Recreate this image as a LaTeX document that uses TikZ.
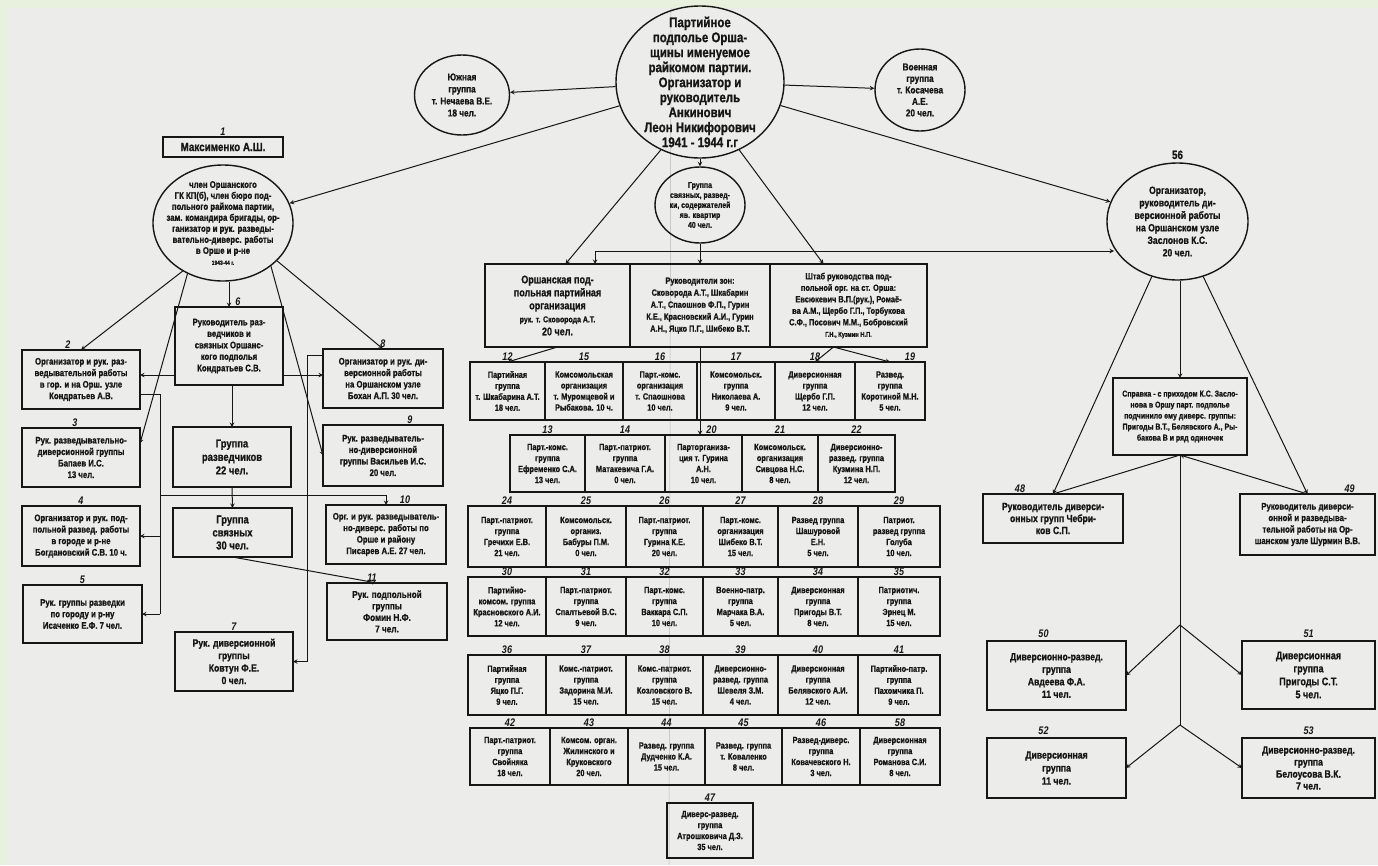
\documentclass[tikz,border=0pt]{standalone}
\usepackage{fontspec}
\newfontfamily\lettering[FakeStretch=0.82, BoldFeatures={FakeBold=1}]{Liberation Sans}
\newcommand{\lfont}[2]{\lettering\bfseries\fontsize{#1}{#2}\selectfont}
\usetikzlibrary{shapes.geometric, arrows, positioning}
\definecolor{frame}{RGB}{231,241,222}
\definecolor{paper}{RGB}{236,236,234}
\definecolor{ink}{RGB}{22,22,22}
\tikzstyle{cell} = [rectangle, draw=ink, line width=1.4pt, outer sep=0pt, inner sep=1pt, align=center, text=ink, font=\lfont{9}{11}]
\tikzstyle{oval} = [ellipse, draw=ink, line width=1.4pt, inner sep=-25pt, align=center, text=ink]
\tikzstyle{num} = [inner sep=1pt, text=ink, font=\lettering\bfseries\itshape\fontsize{11}{11}\selectfont]
\tikzstyle{arrow} = [draw=ink, line width=1pt, ->, >=stealth]
\tikzstyle{link} = [draw=ink, line width=1pt]

\begin{document}
\begin{tikzpicture}[x=1pt, y=-1pt]

        \fill[frame] (0,0) rectangle (1378,865);
        \fill[paper] (8,8) rectangle (1378,865);
        \useasboundingbox (0,0) rectangle (1378,865);
        \draw[gray!55, line width=0.5pt] (671,8) -- (669,865);

        \node (main) [oval, minimum width=168pt, minimum height=152pt, font=\lfont{14}{15}] at (700,82) {Партийное\\подполье Орша-\\щины именуемое\\райкомом партии.\\Организатор и\\руководитель\\Анкинович\\Леон Никифорович\\1941 - 1944 г.г};
        \node (south) [oval, minimum width=95pt, minimum height=80pt, font=\lfont{10}{12}] at (462,95) {Южная\\группа\\т. Нечаева В.Е.\\18 чел.};
        \node (army) [oval, minimum width=90pt, minimum height=82pt, font=\lfont{10}{11.5}] at (920,90) {Военная\\группа\\т. Косачева\\А.Е.\\20 чел.};
        \node (grp) [oval, minimum width=90pt, minimum height=76pt, font=\lfont{8.5}{10}] at (700,205) {Группа\\связных, развед-\\ки, содержателей\\яв. квартир\\40 чел.};

        \node (maks) [cell, minimum width=120pt, minimum height=20pt, font=\lfont{12}{12}] at (223,147) {Максименко А.Ш.};
        \node [num, above=0pt of maks] {1};
        \node (maksOval) [oval, minimum width=140pt, minimum height=116pt, font=\lfont{9.5}{11}] at (223,223) {член Оршанского\\ГК КП(б), член бюро под-\\польного райкома партии,\\зам. командира бригады, ор-\\ганизатор и рук. разведы-\\вательно-диверс. работы\\в Орше и р-не\\{\lfont{6}{7}1943-44 г.}};

        \node (b2) [cell, minimum width=118pt, minimum height=59pt, font=\lfont{9.5}{11.5}] at (81,379.5) {Организатор и рук. раз-\\ведывательной работы\\в гор. и на Орш. узле\\Кондратьев А.В.};
        \node (b3) [cell, minimum width=118pt, minimum height=59pt, font=\lfont{9.5}{11.5}, below=19pt of b2] {Рук. разведывательно-\\диверсионной группы\\Бапаев И.С.\\13 чел.};
        \node (b4) [cell, minimum width=118pt, minimum height=60pt, font=\lfont{9.5}{11.5}, below=19pt of b3] {Организатор и рук. под-\\польной развед. работы\\в городе и р-не\\Богдановский С.В. 10 ч.};
        \node (b5) [cell, minimum width=119pt, minimum height=58pt, font=\lfont{9.5}{11.5}] at (82.5,614) {Рук. группы разведки\\по городу и р-ну\\Исаченко Е.Ф. 7 чел.};
        \node (b6) [cell, minimum width=108pt, minimum height=78pt, font=\lfont{9.5}{11.5}] at (229,346) {Руководитель раз-\\ведчиков и\\связных Оршанс-\\кого подполья\\Кондратьев С.В.};
        \node (razv) [cell, minimum width=118pt, minimum height=60pt, font=\lfont{11.5}{13.5}] at (232,457) {Группа\\разведчиков\\22 чел.};
        \node (svyaz) [cell, minimum width=119pt, minimum height=49pt, font=\lfont{11.5}{13}] at (232.5,532.5) {Группа\\связных\\30 чел.};
        \node (b7) [cell, minimum width=118pt, minimum height=59pt, font=\lfont{10.5}{12.5}] at (234,661.5) {Рук. диверсионной\\группы\\Ковтун Ф.Е.\\0 чел.};
        \node (b8) [cell, minimum width=120pt, minimum height=59pt, font=\lfont{9.5}{11.5}] at (383,378.5) {Организатор и рук. ди-\\версионной работы\\на Оршанском узле\\Бохан А.П. 30 чел.};
        \node (b9) [cell, minimum width=120pt, minimum height=61pt, font=\lfont{9.5}{11.5}] at (383,455.5) {Рук. разведыватель-\\но-диверсионной\\группы Васильев И.С.\\20 чел.};
        \node (b10) [cell, minimum width=120pt, minimum height=59pt, font=\lfont{9.5}{11.5}] at (386,534.5) {Орг. и рук. разведыватель-\\но-диверс. работы по\\Орше и району\\Писарев А.Е. 27 чел.};
        \node (b11) [cell, minimum width=120pt, minimum height=57pt, font=\lfont{10}{11.5}] at (387,611.5) {Рук. подпольной\\группы\\Фомин Н.Ф.\\7 чел.};

        \node [num, above=0pt of b2, xshift=-13pt] {2};
        \node [num, above=0pt of b3, xshift=-6pt] {3};
        \node [num, above=0pt of b4] {4};
        \node [num, above=0pt of b5] {5};
        \node [num, above=0pt of b6, xshift=9pt] {6};
        \node [num, above=0pt of b7] {7};
        \node [num, above=0pt of b8] {8};
        \node [num, above=0pt of b9, xshift=27pt] {9};
        \node [num, above=0pt of b10, xshift=19pt] {10};
        \node [num, above=0pt of b11, xshift=-15pt] {11};

        \node (orgParty) [cell, minimum width=145pt, minimum height=83pt, font=\lfont{11}{13}] at (557.5,305.5) {Оршанская под-\\польная партийная\\организация\\{\lfont{8.5}{10}рук. т. Сковорода А.Т.}\\20 чел.};
        \node (leaders) [cell, minimum width=140pt, minimum height=83pt, font=\lfont{9}{12}, right=0pt of orgParty] {Руководители зон:\\Сковорода А.Т., Шкабарин\\А.Т., Спаошнов Ф.П., Гурин\\К.Е., Красновский А.И., Гурин\\А.Н., Яцко П.Г., Шибеко В.Т.};
        \node (staff) [cell, minimum width=157pt, minimum height=83pt, font=\lfont{9}{11.5}, right=0pt of leaders] {Штаб руководства под-\\польной орг. на ст. Орша:\\Евсюкевич В.П.(рук.), Ромаё-\\ва А.М., Щербо Г.П., Торбукова\\С.Ф., Посович М.М., Бобровский\\{\lfont{7}{8}Г.Н., Кузмин Н.П.}};

        \node (r12) [cell, minimum width=75pt, minimum height=58pt] at (507.5,391) {Партийная\\группа\\т. Шкабарина А.Т.\\18 чел.};
        \node (r15) [cell, minimum width=78pt, minimum height=58pt, right=0pt of r12] {Комсомольская\\организация\\т. Муромцевой и\\Рыбакова. 10 ч.};
        \node (r16) [cell, minimum width=74pt, minimum height=58pt, right=0pt of r15] {Парт.-комс.\\организация\\т. Спаошнова\\10 чел.};
        \node (r17) [cell, minimum width=78pt, minimum height=58pt, right=0pt of r16] {Комсомольск.\\группа\\Николаева А.\\9 чел.};
        \node (r18) [cell, minimum width=80pt, minimum height=58pt, right=0pt of r17] {Диверсионная\\группа\\Щербо Г.П.\\12 чел.};
        \node (r19) [cell, minimum width=70pt, minimum height=58pt, right=0pt of r18] {Развед.\\группа\\Коротиной М.Н.\\5 чел.};

        \node (r13) [cell, minimum width=75pt, minimum height=57pt] at (547.5,463.5) {Парт.-комс.\\группа\\Ефременко С.А.\\13 чел.};
        \node (r14) [cell, minimum width=80pt, minimum height=57pt, right=0pt of r13] {Парт.-патриот.\\группа\\Матакевича Г.А.\\0 чел.};
        \node (r20) [cell, minimum width=77pt, minimum height=57pt, right=0pt of r14] {Парторганиза-\\ция т. Гурина\\А.Н.\\10 чел.};
        \node (r21) [cell, minimum width=76pt, minimum height=57pt, right=0pt of r20] {Комсомольск.\\организация\\Сивцова Н.С.\\8 чел.};
        \node (r22) [cell, minimum width=77pt, minimum height=57pt, right=0pt of r21] {Диверсионно-\\развед. группа\\Кузмина Н.П.\\12 чел.};

        \node (r24) [cell, minimum width=78pt, minimum height=61pt] at (507,536.5) {Парт.-патриот.\\группа\\Гречихи Е.В.\\21 чел.};
        \node (r25) [cell, minimum width=80pt, minimum height=61pt, right=0pt of r24] {Комсомольск.\\организ.\\Бабуры П.М.\\0 чел.};
        \node (r26) [cell, minimum width=77pt, minimum height=61pt, right=0pt of r25] {Парт.-патриот.\\группа\\Гурина К.Е.\\20 чел.};
        \node (r27) [cell, minimum width=75pt, minimum height=61pt, right=0pt of r26] {Парт.-комс.\\организация\\Шибеко В.Т.\\15 чел.};
        \node (r28) [cell, minimum width=80pt, minimum height=61pt, right=0pt of r27] {Развед группа\\Шашуровой\\Е.Н.\\5 чел.};
        \node (r29) [cell, minimum width=82pt, minimum height=61pt, right=0pt of r28] {Патриот.\\развед группа\\Голуба\\10 чел.};

        \node (r30) [cell, minimum width=78pt, minimum height=59pt] at (507,606.5) {Партийно-\\комсом. группа\\Красновского А.И.\\12 чел.};
        \node (r31) [cell, minimum width=80pt, minimum height=59pt, right=0pt of r30] {Парт.-патриот.\\группа\\Спалтьевой В.С.\\9 чел.};
        \node (r32) [cell, minimum width=77pt, minimum height=59pt, right=0pt of r31] {Парт.-комс.\\группа\\Ваккара С.П.\\10 чел.};
        \node (r33) [cell, minimum width=75pt, minimum height=59pt, right=0pt of r32] {Военно-патр.\\группа\\Марчака В.А.\\5 чел.};
        \node (r34) [cell, minimum width=80pt, minimum height=59pt, right=0pt of r33] {Диверсионная\\группа\\Пригоды В.Т.\\8 чел.};
        \node (r35) [cell, minimum width=82pt, minimum height=59pt, right=0pt of r34] {Патриотич.\\группа\\Эрнец М.\\15 чел.};

        \node (r36) [cell, minimum width=78pt, minimum height=60pt] at (507,685) {Партийная\\группа\\Яцко П.Г.\\9 чел.};
        \node (r37) [cell, minimum width=80pt, minimum height=60pt, right=0pt of r36] {Комс.-патриот.\\группа\\Задорина М.И.\\15 чел.};
        \node (r38) [cell, minimum width=77pt, minimum height=60pt, right=0pt of r37] {Комс.-патриот.\\группа\\Козловского В.\\15 чел.};
        \node (r39) [cell, minimum width=75pt, minimum height=60pt, right=0pt of r38] {Диверсионно-\\развед. группа\\Шевеля З.М.\\4 чел.};
        \node (r40) [cell, minimum width=80pt, minimum height=60pt, right=0pt of r39] {Диверсионная\\группа\\Белявского А.И.\\12 чел.};
        \node (r41) [cell, minimum width=82pt, minimum height=60pt, right=0pt of r40] {Партийно-патр.\\группа\\Пахомчика П.\\9 чел.};

        \node (r42) [cell, minimum width=80pt, minimum height=57pt] at (510,756.5) {Парт.-патриот.\\группа\\Свойняка\\18 чел.};
        \node (r43) [cell, minimum width=78pt, minimum height=57pt, right=0pt of r42] {Комсом. орган.\\Жилинского и\\Круковского\\20 чел.};
        \node (r44) [cell, minimum width=77pt, minimum height=57pt, right=0pt of r43] {Развед. группа\\Дудченко К.А.\\15 чел.};
        \node (r45) [cell, minimum width=77pt, minimum height=57pt, right=0pt of r44] {Развед. группа\\т. Коваленко\\8 чел.};
        \node (r46) [cell, minimum width=78pt, minimum height=57pt, right=0pt of r45] {Развед-диверс.\\группа\\Ковачевского Н.\\3 чел.};
        \node (r58) [cell, minimum width=80pt, minimum height=57pt, right=0pt of r46] {Диверсионная\\группа\\Романова С.И.\\8 чел.};

        \node (r47) [cell, minimum width=86pt, minimum height=55pt] at (710,830.5) {Диверс-развед.\\группа\\Атрошковича Д.З.\\35 чел.};

        \node [num, above=0pt of r12] {12};
        \node [num, above=0pt of r15] {15};
        \node [num, above=0pt of r16] {16};
        \node [num, above=0pt of r17] {17};
        \node [num, above=0pt of r18] {18};
        \node [num, above=0pt of r19, xshift=20pt] {19};
        \node [num, above=0pt of r13] {13};
        \node [num, above=0pt of r14] {14};
        \node [num, above=0pt of r20, xshift=8pt] {20};
        \node [num, above=0pt of r21] {21};
        \node [num, above=0pt of r22] {22};
        \node [num, above=0pt of r24] {24};
        \node [num, above=0pt of r25] {25};
        \node [num, above=0pt of r26] {26};
        \node [num, above=0pt of r27] {27};
        \node [num, above=0pt of r28] {28};
        \node [num, above=0pt of r29] {29};
        \node [num, above=0pt of r30] {30};
        \node [num, above=0pt of r31] {31};
        \node [num, above=0pt of r32] {32};
        \node [num, above=0pt of r33] {33};
        \node [num, above=0pt of r34] {34};
        \node [num, above=0pt of r35] {35};
        \node [num, above=0pt of r36] {36};
        \node [num, above=0pt of r37] {37};
        \node [num, above=0pt of r38] {38};
        \node [num, above=0pt of r39] {39};
        \node [num, above=0pt of r40] {40};
        \node [num, above=0pt of r41] {41};
        \node [num, above=0pt of r42] {42};
        \node [num, above=0pt of r43] {43};
        \node [num, above=0pt of r44] {44};
        \node [num, above=0pt of r45] {45};
        \node [num, above=0pt of r46] {46};
        \node [num, above=0pt of r58] {58};
        \node [num, above=0pt of r47] {47};

        \node (zas) [oval, minimum width=141pt, minimum height=117pt, font=\lfont{10.5}{12.5}] at (1177.5,221.5) {Организатор,\\руководитель ди-\\версионной работы\\на Оршанском узле\\Заслонов К.С.\\20 чел.};
        \node [num, above=2pt of zas, font=\lettering\bfseries\fontsize{12}{12}\selectfont] {56};
        \node (spr) [cell, minimum width=134pt, minimum height=77pt, font=\lfont{8.5}{11}] at (1180,416.5) {Справка - с приходом К.С. Засло-\\нова в Оршу парт. подполье\\подчинило ему диверс. группы:\\Пригоды В.Т., Белявского А., Ры-\\бакова В и ряд одиночек};
        \node (b48) [cell, minimum width=140pt, minimum height=49pt, font=\lfont{10.5}{12}] at (1053,518.5) {Руководитель диверси-\\онных групп Чебри-\\ков С.П.};
        \node (b49) [cell, minimum width=135pt, minimum height=61pt, font=\lfont{9.5}{11.5}] at (1307.5,524.5) {Руководитель диверси-\\онной и разведыва-\\тельной работы на Ор-\\шанском узле Шурмин В.В.};
        \node (b50) [cell, minimum width=139pt, minimum height=69pt, font=\lfont{10.5}{12.5}] at (1056.5,675.5) {Диверсионно-развед.\\группа\\Авдеева Ф.А.\\11 чел.};
        \node (b51) [cell, minimum width=133pt, minimum height=68pt, font=\lfont{11}{13}] at (1308.5,675) {Диверсионная\\группа\\Пригоды С.Т.\\5 чел.};
        \node (b52) [cell, minimum width=139pt, minimum height=60pt, font=\lfont{10.5}{13}] at (1056.5,768) {Диверсионная\\группа\\11 чел.};
        \node (b53) [cell, minimum width=133pt, minimum height=60pt, font=\lfont{10.5}{12}] at (1308.5,768) {Диверсионно-развед.\\группа\\Белоусова В.К.\\7 чел.};
        \node [num, above=0pt of b48, xshift=-33pt] {48};
        \node [num, above=0pt of b49, xshift=42pt] {49};
        \node [num, above=2pt of b50, xshift=-13pt] {50};
        \node [num, above=2pt of b51] {51};
        \node [num, above=2pt of b52, xshift=-13pt] {52};
        \node [num, above=2pt of b53] {53};

        \draw [arrow] (main) -- (south);
        \draw [arrow] (main) -- (army);
        \draw [arrow] (main) -- (maksOval);
        \draw [arrow] (main) -- (zas);
        \draw [arrow] (main.240) -- ([xshift=8pt]orgParty.north);
        \draw [arrow] (main.south) -- (grp.north);
        \draw [arrow] (main.300) -- ([xshift=-25pt]staff.north);

        \coordinate (busL) at (595,251);
        \coordinate (busR) at (1114,251);
        \draw [arrow] (grp.south) -- (leaders.north);
        \draw [arrow] (grp.south |- busL) -- (busL) -- (busL |- orgParty.north);
        \draw [arrow] (grp.south |- busL) -- (busR);

        \draw [arrow] (orgParty.south) -- (r12.north);
        \draw [arrow] (leaders.south) -- (leaders.south |- r20.north);
        \draw [arrow] ([xshift=-15pt]staff.south) -- (r18.north);
        \draw [arrow] ([xshift=-15pt]staff.south) -- (r19.north);

        \draw [arrow] (maksOval.230) -- (b2.north);
        \draw [arrow] (maksOval.235) -- ([yshift=14pt]b3.east);
        \draw [arrow] (b6.north |- maksOval.south) -- (b6.north);
        \draw [arrow] (maksOval.-35) -- (b8.north);
        \draw [arrow] (maksOval.-42) -- (b9.west);

        \coordinate (h6) at (229,375);
        \draw [arrow] (b6.west |- h6) -- (b2.east |- h6);
        \draw [arrow] (b6.east |- h6) -- (b8.west |- h6);
        \draw [arrow] (razv.north |- b6.south) -- (razv.north);
        \draw [arrow] (razv.south) -- (svyaz.north);
        \draw [arrow] (svyaz.south) -- ([xshift=-10pt]b11.north);

        \coordinate (spine) at (160,394);
        \coordinate (fork) at (160,495);
        \draw [link] (b2.east |- spine) -- (spine) -- (spine |- b5.east);
        \draw [arrow] (spine |- b4.east) -- (b4.east);
        \draw [arrow] (spine |- b5.east) -- (b5.east);
        \draw [arrow] (fork) -- (fork -| b10.north) -- (b10.north);

        \coordinate (drop) at (307,355);
        \draw [arrow] (b8.west |- drop) -- (drop) -- (drop |- b7.east) -- (b7.east);

        \draw [arrow] (zas.245) -- (b48.north);
        \draw [arrow] (spr.north |- zas.south) -- (spr.north);
        \draw [arrow] (zas.-65) -- (b49.north);
        \draw [link] (spr.south) -- (b48.north);
        \draw [arrow] (b49.north) -- (spr.south);

        \coordinate (j1) at (1180,625);
        \coordinate (j2) at (1180,725);
        \draw [link] (spr.south) -- (j2);
        \draw [arrow] (j1) -- (b50.east);
        \draw [arrow] (j1) -- (b51.west);
        \draw [arrow] (j2) -- (b52.east);
        \draw [arrow] (j2) -- (b53.west);

    \end{tikzpicture}
\end{document}
